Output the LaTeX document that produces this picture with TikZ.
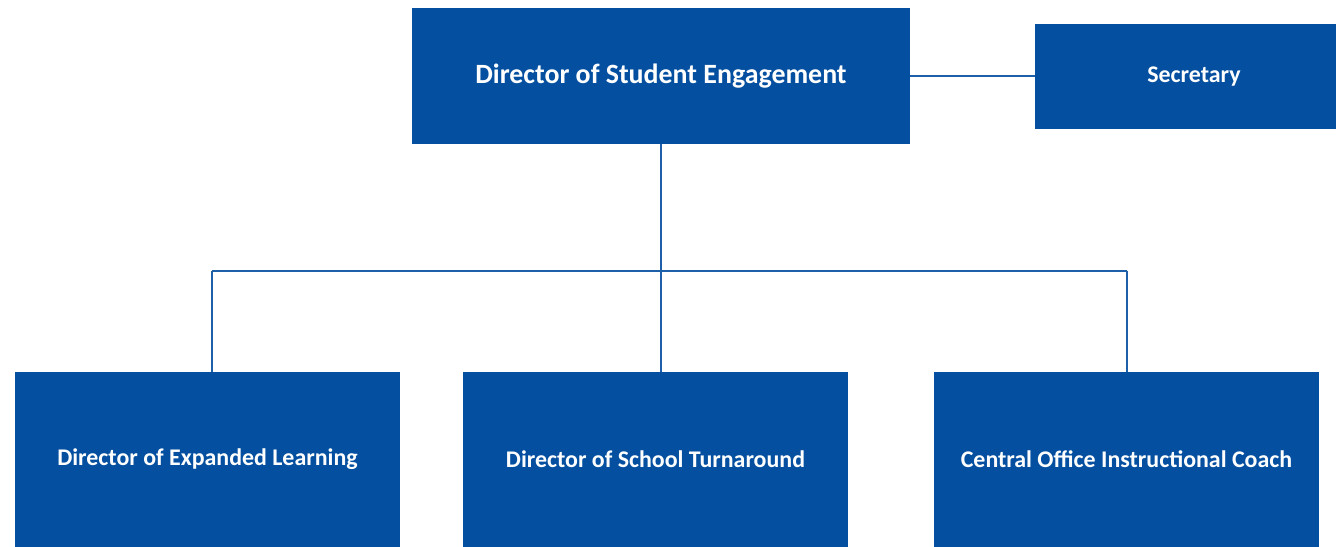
\documentclass[tikz,border=0pt]{standalone}
\usepackage{fontspec}
\setmainfont{Carlito}
\definecolor{boxblue}{RGB}{4,79,160}
\definecolor{lineblue}{RGB}{30,95,170}
\begin{document}
\begin{tikzpicture}[x=1bp,y=-1bp,
  orgbox/.style={fill=boxblue,draw=none,text=white,font=\bfseries,inner sep=0pt,anchor=center},
  conn/.style={draw=lineblue,line width=1.6bp}]
\useasboundingbox (0,0) rectangle (1336,547);
\node[orgbox,minimum width=498bp,minimum height=136bp,font=\bfseries\fontsize{28}{32}\selectfont] (top) at (661,76) {Director of Student Engagement};
\node[orgbox,minimum width=318bp,minimum height=105bp,font=\bfseries\fontsize{24}{28}\selectfont] (sec) at (1194,76.5) {Secretary};
\node[orgbox,minimum width=385bp,minimum height=175bp,font=\bfseries\fontsize{24}{28}\selectfont] (b1) at (207.5,459.5) {Director of Expanded Learning};
\node[orgbox,minimum width=385bp,minimum height=175bp,font=\bfseries\fontsize{24}{28}\selectfont] (b2) at (655.5,459.5) {Director of School Turnaround};
\node[orgbox,minimum width=385bp,minimum height=175bp,font=\bfseries\fontsize{24}{28}\selectfont] (b3) at (1126.5,459.5) {Central Office Instructional Coach};
\coordinate (j) at (661,271);
\coordinate (jl) at (212,271);
\coordinate (jr) at (1127,271);
\draw[conn] (top.east) -- (top.east -| sec.west);
\draw[conn] (top.south) -- (j);
\draw[conn] (jl) -- (jr);
\draw[conn] (jl) -- (jl |- b1.north);
\draw[conn] (j) -- (j |- b2.north);
\draw[conn] (jr) -- (jr |- b3.north);
\end{tikzpicture}
\end{document}
